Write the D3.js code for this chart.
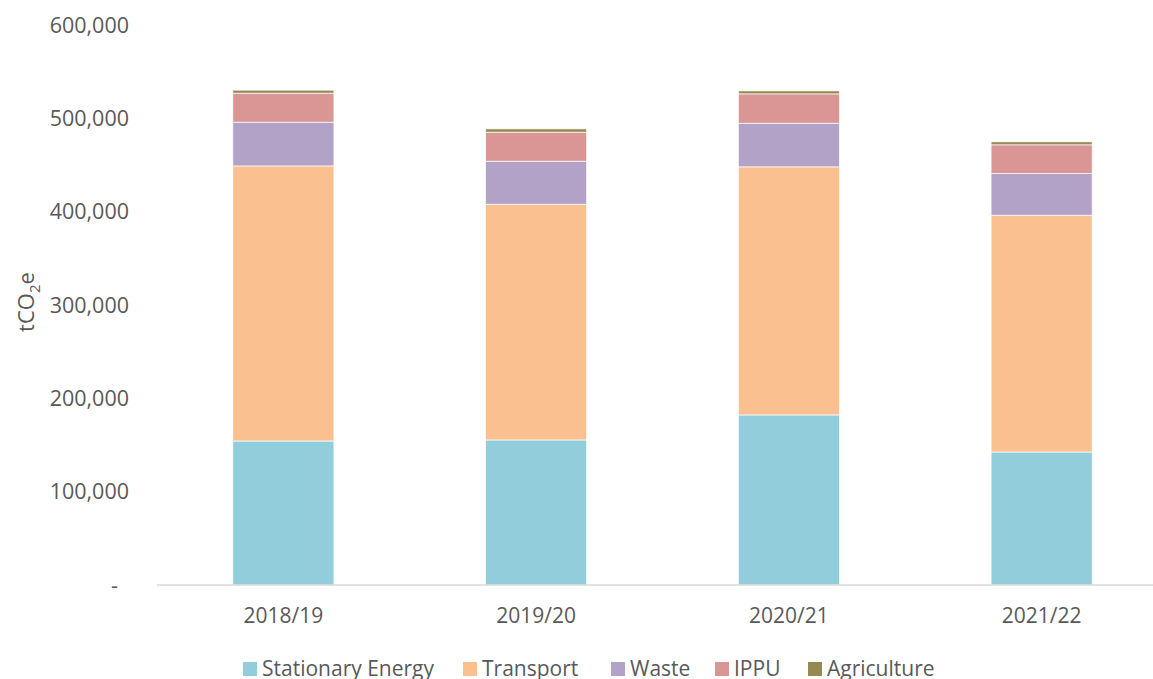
<!DOCTYPE html>
<html>
<head>
<meta charset="utf-8">
<script src="https://cdn.jsdelivr.net/npm/d3@7"></script>
<style>
  body { margin: 0; background: #fff; }
  svg text { font-family: "Open Sans", sans-serif; fill: #595959; }
</style>
</head>
<body>
<svg id="chart" width="1153" height="679"></svg>
<script>
// chart data
const years = ["2018/19", "2019/20", "2020/21", "2021/22"];
const sectors = ["Stationary Energy", "Transport", "Waste", "IPPU", "Agriculture"];
const stationaryEnergy = [154300, 155400, 182200, 142500];
const transport = [294700, 252600, 265800, 253700];
const waste = [46900, 46100, 46800, 44600];
const ippu = [31100, 31100, 31400, 30800];
const agriculture = [3200, 3500, 3200, 3200];
const yTicks = [0, 100000, 200000, 300000, 400000, 500000, 600000];

const colors = ["#92CDDC", "#FAC090", "#B3A2C7", "#D99694", "#948A54"];

let seriesValues = [stationaryEnergy, transport, waste, ippu, agriculture];
let rows = years.map((y, i) => {
    let r = {year: y};
    sectors.forEach((s, j) => r[s] = seriesValues[j][i]);
    return r;
});

let svg = d3.select("#chart");
let margin = {left: 157, right: -15, top: 25, bottom: 94};
let width = 1153 - margin.left - margin.right;
let height = 679 - margin.top - margin.bottom;

let g = svg.append("g").attr("transform", "translate(" + margin.left + "," + margin.top + ")");

let x = d3.scaleBand().domain(years).range([0, width]).paddingInner(0.6).paddingOuter(0.3);
let yScale = d3.scaleLinear().domain([0, 600000]).range([height, 0]);

let stacked = d3.stack().keys(sectors)(rows);

g.selectAll(".layer")
    .data(stacked)
    .join("g")
    .attr("class", "layer")
    .attr("fill", (d, i) => colors[i])
    .selectAll("rect")
    .data(d => d)
    .join("rect")
    .attr("x", d => x(d.data.year))
    .attr("width", x.bandwidth())
    .attr("y", d => yScale(d[1]))
    .attr("height", d => yScale(d[0]) - yScale(d[1]))
    .attr("stroke", "#fff")
    .attr("stroke-width", 0.7);

// y axis labels
let fmt = d3.format(",");
g.selectAll(".ytick")
    .data(yTicks)
    .join("text")
    .attr("class", "ytick")
    .attr("x", d => d === 0 ? -39 : -28)
    .attr("y", d => yScale(d))
    .attr("dy", "0.35em")
    .attr("text-anchor", "end")
    .style("font-size", "21.5px")
    .text(d => d === 0 ? "-" : fmt(d));

// baseline
g.append("line")
    .attr("x1", 0).attr("x2", width)
    .attr("y1", yScale(0)).attr("y2", yScale(0))
    .attr("stroke", "#D9D9D9")
    .attr("stroke-width", 1.5);

// x labels
g.selectAll(".xlab")
    .data(years)
    .join("text")
    .attr("class", "xlab")
    .attr("x", d => x(d) + x.bandwidth() / 2)
    .attr("y", height + 38)
    .attr("text-anchor", "middle")
    .style("font-size", "21px")
    .text(d => d);

// y axis title
let title = svg.append("text")
    .attr("transform", "translate(34,302) rotate(-90)")
    .attr("text-anchor", "middle")
    .style("font-size", "22px");
title.append("tspan").text("tCO");
title.append("tspan").attr("dy", 6).style("font-size", "15px").text("2");
title.append("tspan").attr("dy", -6).text("e");

// legend
let legendX = [243, 463, 611, 715, 808];
let legend = svg.selectAll(".legend")
    .data(sectors)
    .join("g")
    .attr("class", "legend")
    .attr("transform", (d, i) => "translate(" + legendX[i] + ",662)");
legend.append("rect")
    .attr("width", 14).attr("height", 14)
    .attr("fill", (d, i) => colors[i]);
legend.append("text")
    .attr("x", 19).attr("y", 14)
    .style("font-size", "21px")
    .text(d => d);
</script>
</body>
</html>
